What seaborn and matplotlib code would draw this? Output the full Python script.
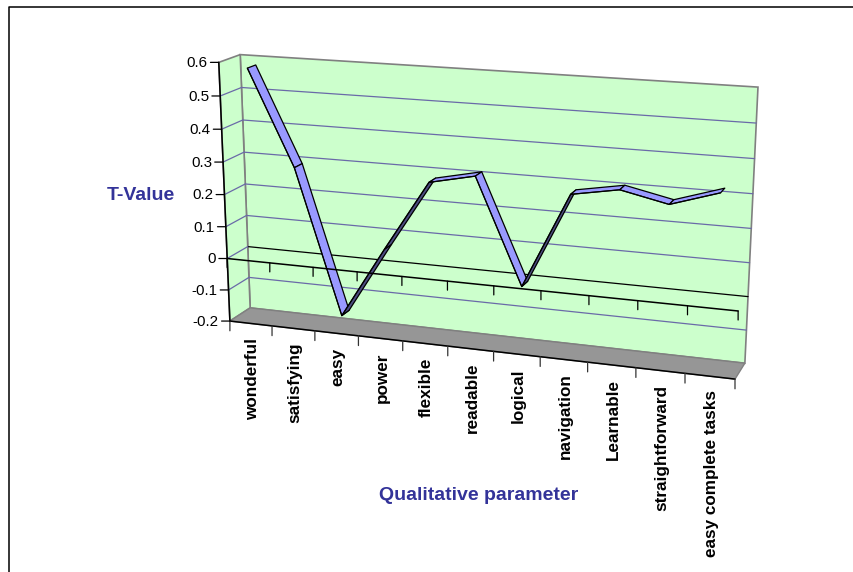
import numpy as np
import matplotlib
matplotlib.use("Agg")
import matplotlib.pyplot as plt
from matplotlib.patches import Polygon
from matplotlib.transforms import Transform
import seaborn as sns

categories = ["wonderful", "satisfying", "easy", "power", "flexible", "readable",
              "logical", "navigation", "Learnable", "straightforward", "easy complete tasks"]
t_values = [0.58, 0.29, -0.157, 0.065, 0.28, 0.31, -0.007, 0.28, 0.305, 0.275, 0.32]
y_ticks = [-0.2, -0.1, 0, 0.1, 0.2, 0.3, 0.4, 0.5, 0.6]
y_tick_labels = ["-0.2", "-0.1", "0", "0.1", "0.2", "0.3", "0.4", "0.5", "0.6"]
x_title = "Qualitative parameter"
y_title = "T-Value"

WALL = "#CCFFCC"
FLOOR = "#969696"
EDGE = "#808080"
GRID = "#6A6AA8"
RIBBON = "#9999FF"
RIBBON_DARK = "#4C4C80"
TITLE = "#333399"

# Calibration of the oblique camera: (category position, value, depth) -> canvas pixel
n_cat = len(categories)
anchors = [
    ((0, 0.6, 0), (219, 62)), ((0, -0.2, 0), (230, 321)), ((0, 0, 0), (227, 259)),
    ((n_cat, -0.2, 0), (735, 379)), ((n_cat, 0, 0), (738, 311)),
    ((0, 0.6, 1), (240, 55)), ((0, -0.2, 1), (250, 308)), ((0, 0, 1), (248, 246)),
    ((n_cat, 0.6, 1), (758, 87)), ((n_cat, -0.2, 1), (745, 363)), ((n_cat, 0, 1), (748, 297)),
]
rows = []
for (x, y, z), (u, v) in anchors:
    p = [x, y, z, 1]
    rows.append(p + [0, 0, 0, 0] + [-u * c for c in p])
    rows.append([0, 0, 0, 0] + p + [-v * c for c in p])
CAMERA = np.linalg.svd(np.array(rows, float))[2][-1].reshape(3, 4)


def project(x, y, z):
    x, y, z = np.broadcast_arrays(x, y, z)
    h = CAMERA @ np.vstack([x.ravel(), y.ravel(), z.ravel(), np.ones(x.size)])
    return (h[:2] / h[2]).T


class DepthPlane(Transform):
    """Maps (category position, value) on a plane of constant depth to pixels."""
    input_dims = output_dims = 2
    is_separable = False

    def __init__(self, plane_depth):
        super().__init__()
        self.plane_depth = plane_depth

    def transform_non_affine(self, values):
        values = np.asarray(values)
        return project(values[:, 0], values[:, 1], self.plane_depth)


sns.set_theme(style="white")
plt.rcParams["font.family"] = ["Liberation Sans", "DejaVu Sans"]

fig = plt.figure(figsize=(8.54, 5.72), dpi=100, facecolor="white")
ax = fig.add_axes([0, 0, 1, 1])
ax.set_axis_off()
ax.set_xlim(0, 854)
ax.set_ylim(572, 0)

front = DepthPlane(0) + ax.transData
back = DepthPlane(1) + ax.transData
ymin, ymax = y_ticks[0], y_ticks[-1]


def face(xs, ys, zs, **kw):
    ax.add_patch(Polygon(project(xs, ys, zs), closed=True, **kw))


# Walls and floor
face([0, n_cat, n_cat, 0], [ymin, ymin, ymax, ymax], 1, facecolor=WALL, edgecolor=EDGE, lw=1.2, zorder=1)
face(0, [ymin, ymin, ymax, ymax], [0, 1, 1, 0], facecolor=WALL, edgecolor=EDGE, lw=1.2, zorder=1)
face([0, n_cat, n_cat, 0], ymin, [0, 0, 1, 1], facecolor=FLOOR, edgecolor=EDGE, lw=1, zorder=1)

# Gridlines run along the side wall and across the back wall
for tick in y_ticks[1:-1]:
    color = "black" if tick == 0 else GRID
    ax.plot([0, n_cat], [tick, tick], color=color, lw=0.9, transform=back, zorder=2)
    pts = project(0, tick, [0, 1])
    ax.plot(pts[:, 0], pts[:, 1], color=GRID, lw=0.9, zorder=2)

# The series as a ribbon with depth
z0, z1 = 0.3, 0.7
positions = np.arange(n_cat) + 0.5
for i in range(n_cat - 1):
    xs = [positions[i], positions[i + 1], positions[i + 1], positions[i]]
    ys = [t_values[i], t_values[i + 1], t_values[i + 1], t_values[i]]
    zs = [z0, z0, z1, z1]
    quad = project(xs, ys, zs)
    px, py = quad[:, 0], quad[:, 1]
    area = 0.5 * np.sum(px * np.roll(py, -1) - np.roll(px, -1) * py)
    shade = RIBBON_DARK if area > 0 else RIBBON
    ax.add_patch(Polygon(quad, closed=True, facecolor=shade, edgecolor="black", lw=0.9,
                         joinstyle="round", zorder=3))
sns.lineplot(x=positions, y=t_values, ax=ax, color="black", lw=0.8, sort=False, errorbar=None,
             transform=DepthPlane(z0) + ax.transData, zorder=3.5)

# Front axis lines with tick marks
axis_pts = project(0, [ymin, ymax], 0)
ax.plot(axis_pts[:, 0], axis_pts[:, 1], color="black", lw=1.1, zorder=4)
ax.plot([0, n_cat], [0, 0], color="black", lw=1.1, transform=front, zorder=4)
ax.plot([0, n_cat], [ymin, ymin], color="black", lw=1.1, transform=front, zorder=4)

for pos in range(n_cat + 1):
    for level in (0, ymin):
        ax.annotate("", xy=(pos, level), xycoords=front, xytext=(0, -6.5 if level == 0 else -7),
                    textcoords="offset points",
                    arrowprops=dict(arrowstyle="-", color="black" if level == 0 else "#333333",
                                    lw=0.9, shrinkA=0, shrinkB=0), zorder=4)

for tick, label in zip(y_ticks, y_tick_labels):
    ax.annotate("", xy=(0, tick), xycoords=front, xytext=(-6, 0), textcoords="offset points",
                arrowprops=dict(arrowstyle="-", color="black", lw=0.9, shrinkA=0, shrinkB=0), zorder=4)
    ax.annotate(label, xy=(0, tick), xycoords=front, xytext=(-8, -0.6), textcoords="offset points",
                ha="right", va="center", fontsize=10.9, color="black", zorder=5)

for pos, name in zip(positions, categories):
    ax.annotate(name, xy=(pos, ymin), xycoords=front, xytext=(1.1, -10.2), textcoords="offset points",
                rotation=90, ha="center", va="top", fontsize=12.3, fontweight="bold", color="black", zorder=5)

ax.text(141, 196, y_title, ha="center", va="center", fontsize=14, fontweight="bold", color=TITLE)
ax.text(479, 496, x_title, ha="center", va="center", fontsize=14, fontweight="bold", color=TITLE)

# Chart frame, open towards the right and bottom edges of the canvas
ax.plot([8.7, 8.7, 854], [572, 6.5, 6.5], color="black", lw=1.1, zorder=6)

ax.set_xlim(0, 854)
ax.set_ylim(572, 0)
ax.set_xlabel("")
ax.set_ylabel("")
fig.savefig("out.png", dpi=100)
